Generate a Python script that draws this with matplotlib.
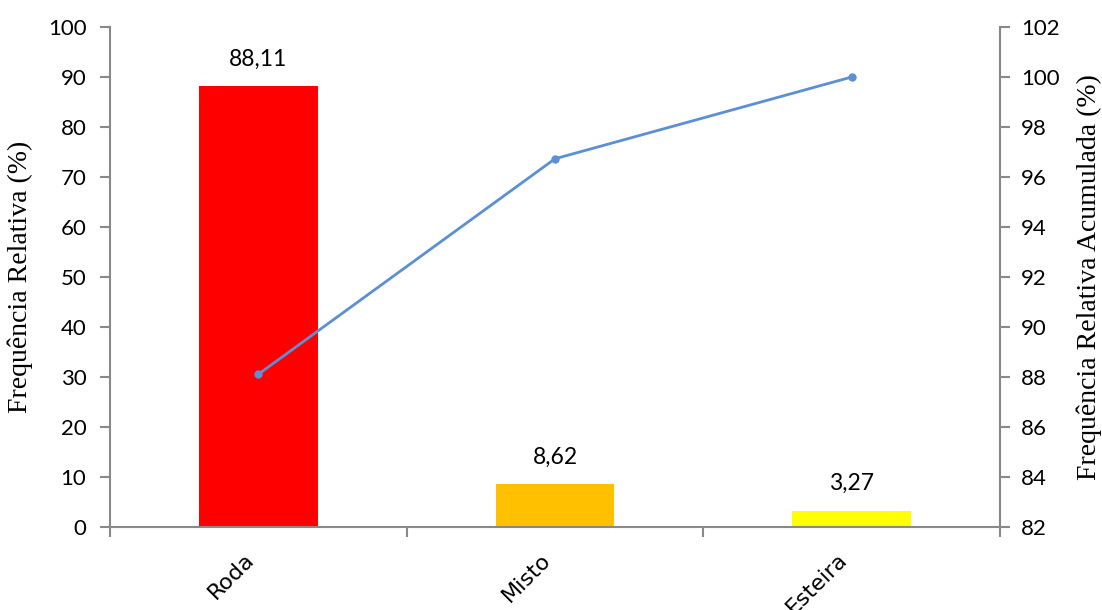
import matplotlib.pyplot as plt
import matplotlib.transforms as mtrans
import numpy as np

categorias = ['Roda', 'Misto', 'Esteira']
freq_rel = [88.11, 8.62, 3.27]
freq_acum = [88.11, 96.73, 100.0]
cores = ['#FF0000', '#FFC000', '#FFFF00']
rotulos = ['88,11', '8,62', '3,27']

cinza = '#898989'
fonte_num = 'Lato'

fig = plt.figure(figsize=(11.02, 6.10), dpi=100)
ax = fig.add_axes([0.0998, 0.136, 0.8076, 0.8197])
x = np.arange(len(categorias))

ax.bar(x, freq_rel, width=0.4, color=cores)
for xi, v, r in zip(x, freq_rel, rotulos):
    ax.text(xi, v + 3.3, r, ha='center', va='bottom', fontsize=16.5, family=fonte_num)

ax.set_xlim(-0.5, 2.5)
ax.set_ylim(0, 100)
ax.set_yticks(range(0, 101, 10))
ax.set_xticks([-0.5, 0.5, 1.5, 2.5])
ax.set_xticklabels([])
ax.set_xticks(x, minor=True)
ax.set_xticklabels(categorias, minor=True, rotation=45, ha='right', va='top',
                   fontsize=16)
desloc = mtrans.ScaledTranslation(-0.30, 0, fig.dpi_scale_trans)
for lb in ax.get_xticklabels(minor=True):
    lb.set_transform(lb.get_transform() + desloc)
ax.tick_params(axis='x', which='minor', length=0, pad=16)
ax.tick_params(axis='x', which='major', length=7, color=cinza, width=1.5)
ax.tick_params(axis='y', length=7, color=cinza, width=1.5, labelsize=16, pad=10)
for lb in ax.get_yticklabels():
    lb.set_family(fonte_num)
for s in ['top', 'right']:
    ax.spines[s].set_visible(False)
for s in ['left', 'bottom']:
    ax.spines[s].set_color(cinza)
    ax.spines[s].set_linewidth(1.5)
ax.set_ylabel('Frequência Relativa (%)', family='Liberation Serif', fontsize=20)
ax.yaxis.set_label_coords(-0.0865, 0.5)

ax2 = ax.twinx()
ax2.plot(x, freq_acum, color='#5B8FD6', lw=2, marker='o', ms=5)
ax2.set_ylim(82, 102)
ax2.set_yticks(range(82, 103, 2))
ax2.tick_params(axis='y', length=7, color=cinza, width=1.5, labelsize=16, pad=8)
for lb in ax2.get_yticklabels():
    lb.set_family(fonte_num)
for s in ['top', 'left', 'bottom']:
    ax2.spines[s].set_visible(False)
ax2.spines['right'].set_color(cinza)
ax2.spines['right'].set_linewidth(1.5)
ax2.set_ylabel('Frequência Relativa Acumulada (%)', family='Liberation Serif', fontsize=20)
ax2.yaxis.set_label_coords(1.086, 0.5)

fig.savefig('out.png', dpi=100)
